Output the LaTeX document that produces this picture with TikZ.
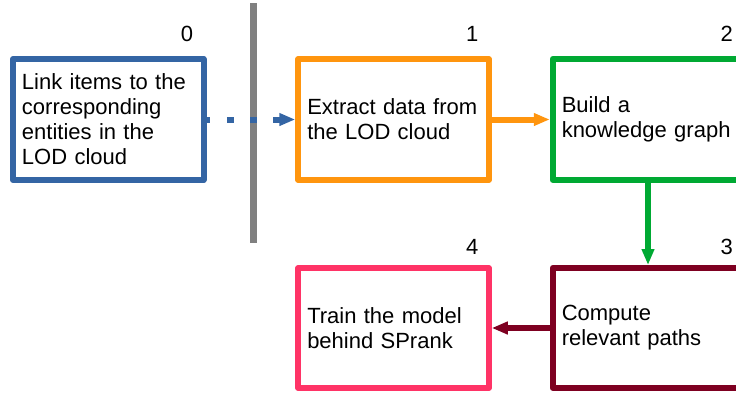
\documentclass[tikz,border=0pt]{standalone}
\usepackage{fontspec}
\setmainfont{Liberation Sans}
\usetikzlibrary{arrows.meta,calc}
\definecolor{cblue}{HTML}{3465A4}
\definecolor{corange}{HTML}{FF950E}
\definecolor{cgreen}{HTML}{00A933}
\definecolor{cdred}{HTML}{7E0021}
\definecolor{cpink}{HTML}{FF3366}
\definecolor{cgray}{HTML}{808080}
\begin{document}
\begin{tikzpicture}[x=1bp,y=-1bp,
  box/.style={draw, line width=6bp, line join=round, text width=172.5bp,
    inner xsep=9bp, inner ysep=0pt, minimum height=121bp, align=left,
    font=\fontsize{22bp}{25bp}\selectfont, fill=white},
  num/.style={font=\fontsize{22bp}{25bp}\selectfont, inner sep=0pt, anchor=center},
  conn/.style={line width=6bp, -{Triangle[length=16bp,width=12bp]}}]
\clip (0,0) rectangle (736,396);
% separator
\coordinate (gt) at (253,3);
\coordinate (gb) at (253,243);
\draw[line width=7bp, color=cgray] (gt) -- (gb);
% boxes
\node[box, draw=cblue] (b0) at (108.25,119.5) {Link items to the\\corresponding\\entities in the\\LOD cloud};
\node[box, draw=corange] (b1) at (393.5,119.5) {Extract data from\\the LOD cloud};
\node[box, draw=cgreen] (b2) at (648,119.5) {Build a\\knowledge graph};
\node[box, draw=cdred, minimum height=120bp] (b3) at (648,328) {Compute\\relevant paths};
\node[box, draw=cpink, minimum height=120bp] (b4) at (393.5,328) {Train the model\\behind SPrank};
% numbers
\node[num] (n0) at ([xshift=-19.5bp,yshift=22bp]b0.north east) {0};
\node[num] (n1) at ([xshift=-19.5bp,yshift=22bp]b1.north east) {1};
\node[num] (n2) at ([xshift=-19.5bp,yshift=22bp]b2.north east) {2};
\node[num] (n3) at ([xshift=-19.5bp,yshift=18.5bp]b3.north east) {3};
\node[num] (n4) at ([xshift=-19.5bp,yshift=18.5bp]b4.north east) {4};
% connectors
\draw[conn, color=cblue, dash pattern=on 6.7bp off 16.6bp, dash phase=3bp] (b0.east) -- (b1.west);
\draw[conn, color=corange] (b1.east) -- (b2.west);
\draw[conn, color=cgreen] (b2.south) -- (b3.north);
\draw[conn, color=cdred] (b3.west) -- (b4.east);
\end{tikzpicture}
\end{document}
